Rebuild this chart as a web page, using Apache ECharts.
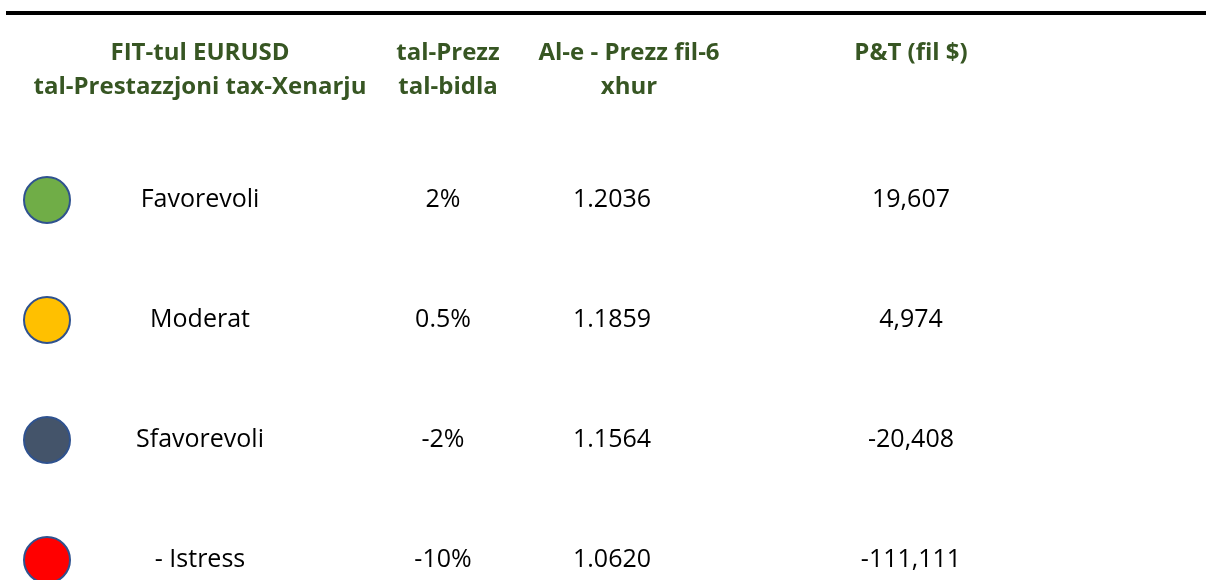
<!DOCTYPE html>
<html>
<head>
<meta charset="utf-8">
<script src="https://cdn.jsdelivr.net/npm/echarts@6/dist/echarts.min.js"></script>
<style>
html,body{margin:0;padding:0;background:#fff;}
#chart{width:1206px;height:580px;}
</style>
</head>
<body>
<div id="chart"></div>
<script>
// ---- data ----
var headers = [
  ['FIT-tul EURUSD', 'tal-Prestazzjoni tax-Xenarju'],
  ['tal-Prezz', 'tal-bidla'],
  ['Al-e - Prezz fil-6', 'xhur'],
  ['P&T (fil $)']
];
var scenarios = ['Favorevoli', 'Moderat', 'Sfavorevoli', '- Istress'];
var changes = ['2%', '0.5%', '-2%', '-10%'];
var rates = ['1.2036', '1.1859', '1.1564', '1.0620'];
var pnl = ['19,607', '4,974', '-20,408', '-111,111'];
var circleColors = ['#70AD47', '#FFC000', '#44546A', '#FF0000'];

// ---- layout ----
var iconX = 47;
var colX = [200, 443, 612, 911];
var headX = [200, 448, 629, 911];
var FONT = '"Open Sans"';

var chart = echarts.init(document.getElementById('chart'), null, {renderer: 'canvas'});

var rowData = scenarios.map(function (s, i) { return [iconX, i]; });

chart.setOption({
  animation: false,
  grid: {left: 0, right: 0, top: 0, bottom: 0},
  xAxis: {type: 'value', min: 0, max: 1206, show: false},
  yAxis: {type: 'value', inverse: true, min: -200 / 120, max: 380 / 120, show: false},
  graphic: [{
    type: 'line',
    shape: {x1: 6, y1: 13, x2: 1206, y2: 13},
    style: {stroke: '#000', lineWidth: 4}
  }],
  series: [
    {
      type: 'scatter',
      data: rowData,
      symbol: 'circle',
      symbolSize: 46,
      clip: false,
      itemStyle: {
        color: function (p) { return circleColors[p.dataIndex]; },
        borderColor: '#2F528F',
        borderWidth: 2,
        opacity: 1
      },
      silent: true
    },
    {
      type: 'custom',
      data: rowData,
      clip: false,
      renderItem: function (params, api) {
        var i = params.dataIndex;
        var vals = [scenarios[i], changes[i], rates[i], pnl[i]];
        var children = vals.map(function (v, k) {
          var pt = api.coord([colX[k], i]);
          return {
            type: 'text',
            style: {
              text: v, x: pt[0], y: pt[1],
              align: 'center', verticalAlign: 'middle',
              font: '25px ' + FONT, fill: '#000'
            }
          };
        });
        return {type: 'group', children: children};
      }
    },
    {
      type: 'custom',
      data: [[0, -1.08]],
      clip: false,
      renderItem: function (params, api) {
        var children = headers.map(function (lines, k) {
          var pt = api.coord([headX[k], -1.08]);
          return {
            type: 'text',
            style: {
              text: lines.join('\n'), x: pt[0], y: pt[1] - (lines.length === 1 ? 17 : 0),
              align: 'center', verticalAlign: 'middle', lineHeight: 34,
              font: 'bold 24px ' + FONT, fill: '#375623'
            }
          };
        });
        return {type: 'group', children: children};
      }
    }
  ]
});
</script>
</body>
</html>
